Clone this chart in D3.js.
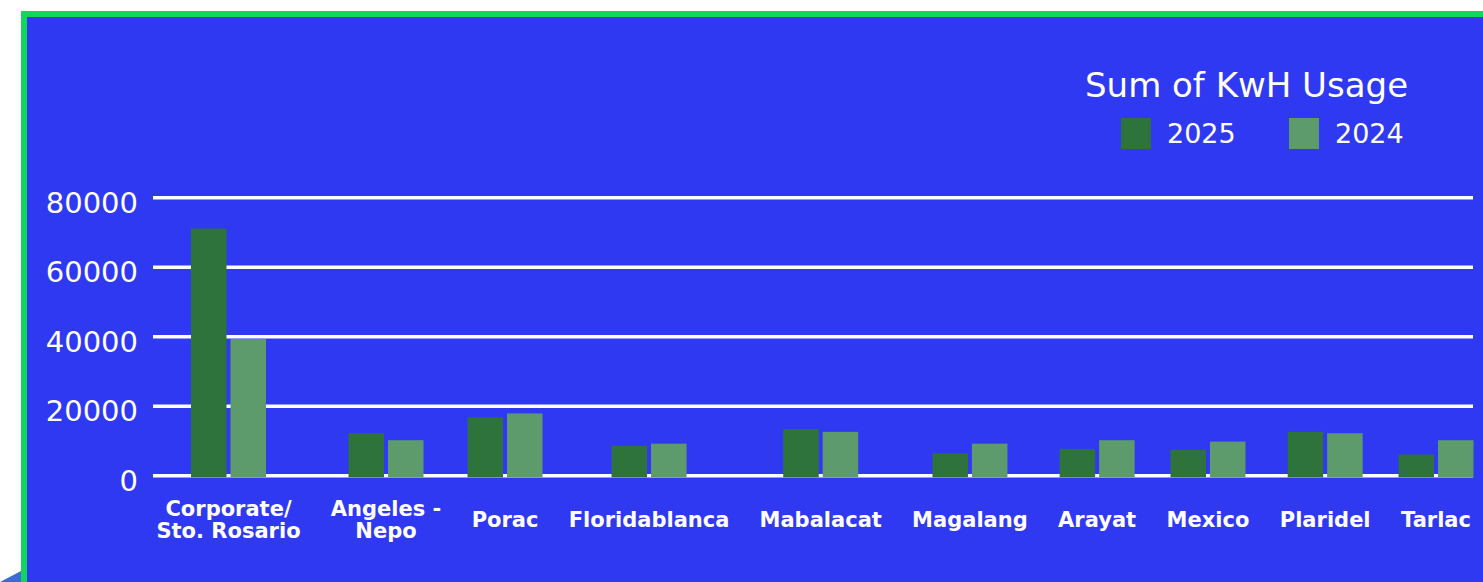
<!DOCTYPE html>
<html>
<head>
<meta charset="utf-8">
<script src="https://cdn.jsdelivr.net/npm/d3@7"></script>
<style>
  body { margin: 0; background: #fff; }
  svg { display: block; }
</style>
</head>
<body>
<script>
// chart values
var categories = ["Corporate/\nSto. Rosario", "Angeles -\nNepo", "Porac", "Floridablanca", "Mabalacat",
  "Magalang", "Arayat", "Mexico", "Plaridel", "Tarlac"];
var series = ["2025", "2024"];
var kwh2025 = [71000, 12100, 16700, 8500, 13300, 6300, 7600, 7300, 12500, 6000];
var kwh2024 = [39200, 10100, 17800, 9100, 12500, 9100, 10100, 9700, 12100, 10100];
var yTicks = [0, 20000, 40000, 60000, 80000];
var legendTitle = "Sum of KwH Usage";

var W = 1483, H = 582;
var gridLeft = 153, gridRight = 1473;
var plotTop = 197.3, plotBottom = 475.3;
var labelMid = 527;
var lineGap = 22;
var font = "'DejaVu Sans', 'Liberation Sans', sans-serif";

var svg = d3.select("body").append("svg")
  .attr("width", W)
  .attr("height", H);

// frame: green border on top/left, blue panel
svg.append("rect").attr("x", 21).attr("y", 11).attr("width", W).attr("height", H).attr("fill", "#12D65C");
svg.append("rect").attr("x", 27).attr("y", 17).attr("width", W).attr("height", H).attr("fill", "#3039F2");
svg.append("path").attr("d", "M0," + H + "L21,571L21," + H + "Z").attr("fill", "#3B6BD6");

var y = d3.scaleLinear()
  .domain([0, 80000])
  .range([plotBottom, plotTop]);

var yAxis = d3.axisLeft(y)
  .tickValues(yTicks)
  .tickFormat(d3.format("d"))
  .tickSizeInner(-(gridRight - gridLeft))
  .tickSizeOuter(0)
  .tickPadding(15);

svg.append("g")
  .attr("transform", "translate(" + gridLeft + ",0)")
  .call(yAxis)
  .call(function(g) { g.select(".domain").remove(); })
  .call(function(g) {
    g.selectAll(".tick line").attr("stroke", "#fff").attr("stroke-width", 3.5);
  })
  .call(function(g) {
    g.selectAll(".tick text")
      .attr("fill", "#fff")
      .attr("dy", "15px")
      .style("font-family", font)
      .style("font-size", "29px");
  });

// category labels, measured so each category gets a slot as wide as its label
var labelG = svg.append("g")
  .style("font-family", font)
  .style("font-weight", "bold")
  .style("font-size", "21px")
  .attr("fill", "#fff")
  .attr("text-anchor", "middle");

var labels = labelG.selectAll("text")
  .data(categories)
  .join("text");

labels.each(function(c) {
  var lines = c.split("\n");
  d3.select(this).selectAll("tspan")
    .data(lines)
    .join("tspan")
    .attr("x", 0)
    .attr("y", function(l, k) { return labelMid + (k - (lines.length - 1) / 2) * lineGap; })
    .text(function(l) { return l; });
});

var slotPad = 31;
var slots = labels.nodes().map(function(n) {
  return d3.max(Array.from(n.querySelectorAll("tspan")), function(t) { return t.getComputedTextLength(); }) + slotPad;
});
var centers = [];
var acc = 0;
slots.forEach(function(s) { centers.push(acc + s / 2); acc += s; });

var x = d3.scaleLinear()
  .domain([centers[0], centers[centers.length - 1]])
  .range([228.5, 1436]);

var xCat = function(c) { return x(centers[categories.indexOf(c)]); };

labels.attr("transform", function(c) { return "translate(" + xCat(c) + ",0)"; });

var sub = d3.scaleBand()
  .domain(series)
  .range([-37.5, 37.5])
  .paddingInner(0.1);

var color = d3.scaleOrdinal()
  .domain(series)
  .range(["#2F733C", "#5D9B6C"]);

var rows = categories.map(function(c, i) {
  return { cat: c, values: [{ s: "2025", v: kwh2025[i] }, { s: "2024", v: kwh2024[i] }] };
});

var groups = svg.selectAll(".grp")
  .data(rows)
  .enter().append("g")
  .attr("class", "grp")
  .attr("transform", function(d) { return "translate(" + xCat(d.cat) + ",0)"; });

groups.selectAll("rect")
  .data(function(d) { return d.values; })
  .enter().append("rect")
  .attr("x", function(d) { return sub(d.s); })
  .attr("y", function(d) { return y(d.v); })
  .attr("width", sub.bandwidth())
  .attr("height", function(d) { return y(0) - y(d.v) + 2; })
  .attr("fill", function(d) { return color(d.s); });

// legend
svg.append("text")
  .attr("x", 1085)
  .attr("y", 97)
  .attr("fill", "#fff")
  .style("font-family", font)
  .style("font-size", "34px")
  .text(legendTitle);

var legend = svg.selectAll(".legend")
  .data(series)
  .enter().append("g")
  .attr("class", "legend")
  .attr("transform", function(d, i) { return "translate(" + (1121 + i * 168) + ",118)"; });

legend.append("rect")
  .attr("width", 30)
  .attr("height", 31)
  .attr("fill", function(d) { return color(d); });

legend.append("text")
  .attr("x", 46)
  .attr("y", 25)
  .attr("fill", "#fff")
  .style("font-family", font)
  .style("font-size", "27px")
  .text(function(d) { return d; });
</script>
</body>
</html>
